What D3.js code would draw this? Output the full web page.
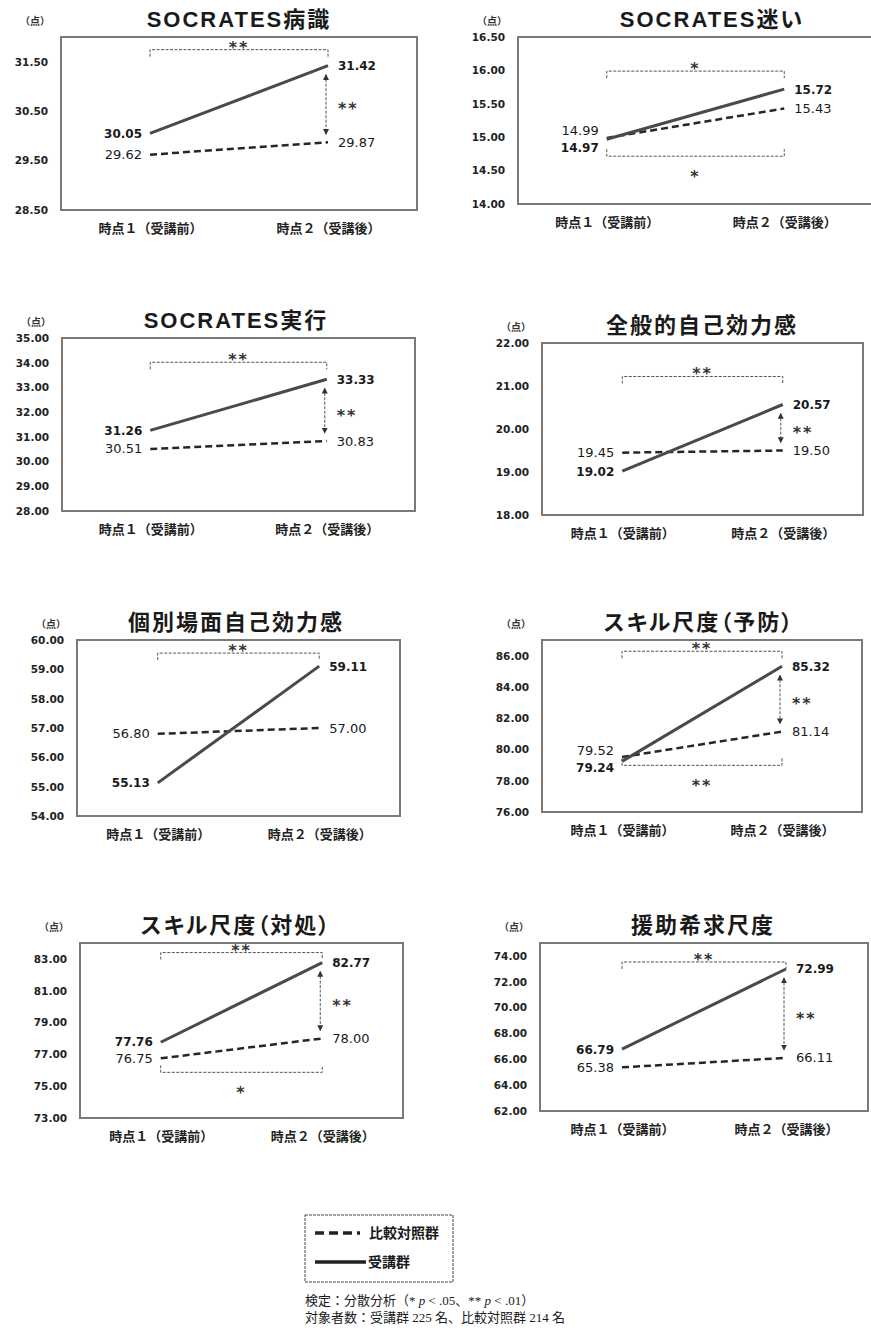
<!DOCTYPE html>
<html lang="ja">
<head>
<meta charset="utf-8">
<script src="https://d3js.org/d3.v7.min.js"></script>
<style>
	body { margin: 0; background: #fff; }
	svg { display: block; background: #fff; }
	.title {
		font-family: "Liberation Sans", "Noto Sans CJK JP", sans-serif;
		font-weight: bold;
		font-size: 22px;
		letter-spacing: 2px;
		font-feature-settings: "palt";
		fill: #1a1a1a;
	}
	.unit { font-family: "Noto Sans CJK JP", sans-serif; font-size: 10px; font-weight: bold; fill: #333; }
	.frame { fill: none; stroke: #7a7a7a; stroke-width: 2px; }
	.trainee { fill: none; stroke: #4a4a4a; stroke-width: 3px; }
	.control { fill: none; stroke: #262626; stroke-width: 2.5px; stroke-dasharray: 7,4; }
	.bracket { fill: none; stroke: #555; stroke-width: 1px; stroke-dasharray: 3,1.5; }
	.val { font-family: "DejaVu Sans", sans-serif; fill: #1a1a1a; }
	.val.bold { font-size: 12px; font-weight: bold; }
	.val.norm { font-size: 13px; }
	.sig { font-family: "DejaVu Sans", sans-serif; font-size: 16px; font-weight: bold; letter-spacing: 2px; fill: #333; }
	.note { font-family: "Liberation Serif", "Noto Sans CJK JP", serif; font-size: 13px; fill: #1a1a1a; }
</style>
</head>
<body>
<div id="chart"></div>
<script>

var width = 871, height = 1334;

// chart values, one entry per panel
var titles = ["SOCRATES病識", "SOCRATES迷い", "SOCRATES実行", "全般的自己効力感",
	"個別場面自己効力感", "スキル尺度（予防）", "スキル尺度（対処）", "援助希求尺度"];
var timeLabels = ["時点１（受講前）", "時点２（受講後）"];
var groupNames = ["比較対照群", "受講群"];

var traineeT1 = [30.05, 14.97, 31.26, 19.02, 55.13, 79.24, 77.76, 66.79];
var traineeT2 = [31.42, 15.72, 33.33, 20.57, 59.11, 85.32, 82.77, 72.99];
var controlT1 = [29.62, 14.99, 30.51, 19.45, 56.80, 79.52, 76.75, 65.38];
var controlT2 = [29.87, 15.43, 30.83, 19.50, 57.00, 81.14, 78.00, 66.11];

var axisMin  = [28.5, 14, 28, 18, 54, 76, 73, 62];
var axisMax  = [32, 16.5, 35, 22, 60, 87, 84, 75];
var axisStep = [1, 0.5, 1, 1, 1, 2, 2, 2];

// significance marks: trainee time change (top), control time change (bottom), groups at time 2
var sigTrainee = ["**", "*", "**", "**", "**", "**", "**", "**"];
var sigControl = [null, "*", null, null, null, "**", "*", null];
var sigGroup   = ["**", null, "**", "**", null, "**", "**", "**"];

// panel layout: plot frame [x0, y0, x1, y1], title centre, bracket offsets
var frames = [
	[61, 37, 417, 210], [518, 37, 873, 204],
	[62, 338, 415, 511], [542, 343, 863, 515],
	[77, 640, 400, 816], [542, 640, 862, 812],
	[80, 943, 403, 1118], [540, 943, 868, 1111]
];
var titleX = [239, 712, 236, 702, 236, 699, 236, 703];
var topGap = [16, 18, 17, 28, 13, 15, 10, 7];
var bottomGap = [0, 17, 0, 0, 0, 4, 14, 0];

var svg = d3.select("#chart").append("svg")
	.attr("width", width)
	.attr("height", height);

var defs = svg.append("defs");
defs.append("marker")
	.attr("id", "head")
	.attr("viewBox", "0 0 8 8")
	.attr("refX", 7).attr("refY", 4)
	.attr("markerWidth", 6).attr("markerHeight", 6)
	.attr("markerUnits", "userSpaceOnUse")
	.attr("orient", "auto-start-reverse")
	.append("path")
	.attr("d", "M0,0L8,4L0,8z")
	.attr("fill", "#333");

var fmt = d3.format(".2f");

titles.forEach(function(title, i) {
	var f = frames[i];
	var g = svg.append("g");

	var x = d3.scalePoint().domain(timeLabels).range([f[0], f[2]]).padding(0.5);
	var y = d3.scaleLinear().domain([axisMin[i], axisMax[i]]).range([f[3], f[1]]);

	var trainee = [traineeT1[i], traineeT2[i]];
	var control = [controlT1[i], controlT2[i]];

	g.append("text")
		.attr("class", "title")
		.attr("x", titleX[i])
		.attr("y", f[1] - 10)
		.attr("text-anchor", "middle")
		.text(title);

	g.append("text")
		.attr("class", "unit")
		.attr("x", f[0] - 26)
		.attr("y", f[1] - 12)
		.attr("text-anchor", "middle")
		.text("（点）");

	g.append("rect")
		.attr("class", "frame")
		.attr("x", f[0]).attr("y", f[1])
		.attr("width", f[2] - f[0]).attr("height", f[3] - f[1]);

	// y axis
	var ticks = d3.range(axisMin[i], axisMax[i] + 1e-6, axisStep[i]);
	g.append("g")
		.attr("transform", "translate(" + f[0] + ",0)")
		.call(d3.axisLeft(y).tickValues(ticks).tickFormat(fmt).tickSize(0).tickPadding(13))
		.call(function(a) { a.select(".domain").remove(); })
		.attr("font-family", "DejaVu Sans, sans-serif")
		.attr("font-weight", "bold")
		.attr("font-size", 10.5)
		.selectAll("text").attr("fill", "#222");

	// x axis
	g.append("g")
		.attr("transform", "translate(0," + f[3] + ")")
		.call(d3.axisBottom(x).tickSize(0).tickPadding(14))
		.call(function(a) { a.select(".domain").remove(); })
		.attr("font-family", "Noto Sans CJK JP, sans-serif")
		.attr("font-weight", "bold")
		.attr("font-size", 13)
		.selectAll("text").attr("fill", "#222");

	var line = d3.line()
		.x(function(d, k) { return x(timeLabels[k]); })
		.y(function(d) { return y(d); });

	g.append("path").datum(control).attr("class", "control").attr("d", line);
	g.append("path").datum(trainee).attr("class", "trainee").attr("d", line);

	// value labels, pushed apart when they would overlap
	[0, 1].forEach(function(k) {
		var yt = y(trainee[k]), yc = y(control[k]);
		if (Math.abs(yt - yc) < 17) {
			var mid = (yt + yc) / 2, s = trainee[k] >= control[k] ? -1 : 1;
			yt = mid + s * 8.5;
			yc = mid - s * 8.5;
		}
		var lx = k === 0 ? x(timeLabels[0]) - 8 : x(timeLabels[1]) + 10;
		var anchor = k === 0 ? "end" : "start";
		g.append("text").attr("class", "val bold")
			.attr("x", lx).attr("y", yt + 4.5)
			.attr("text-anchor", anchor)
			.text(fmt(trainee[k]));
		g.append("text").attr("class", "val norm")
			.attr("x", lx).attr("y", yc + 4.5)
			.attr("text-anchor", anchor)
			.text(fmt(control[k]));
	});

	var x1 = x(timeLabels[0]), x2 = x(timeLabels[1]);

	// top bracket: change within trainee group
	if (sigTrainee[i]) {
		var top = Math.min(y(trainee[0]), y(trainee[1]), y(control[0]), y(control[1])) - topGap[i];
		g.append("path").attr("class", "bracket")
			.attr("d", "M" + x1 + "," + (top + 7) + "V" + top + "H" + x2 + "V" + (top + 7));
		g.append("text").attr("class", "sig")
			.attr("x", (x1 + x2) / 2).attr("y", top + 3)
			.attr("text-anchor", "middle")
			.text(sigTrainee[i]);
	}

	// bottom bracket: change within control group
	if (sigControl[i]) {
		var bot = Math.max(y(trainee[0]), y(control[0])) + bottomGap[i];
		g.append("path").attr("class", "bracket")
			.attr("d", "M" + x1 + "," + (bot - 7) + "V" + bot + "H" + x2 + "V" + (bot - 7));
		g.append("text").attr("class", "sig")
			.attr("x", (x1 + x2) / 2).attr("y", bot + 26)
			.attr("text-anchor", "middle")
			.text(sigControl[i]);
	}

	// arrow between groups at time 2
	if (sigGroup[i]) {
		var ya = y(trainee[1]) + 9, yb = y(control[1]) - 8;
		g.append("line").attr("class", "bracket")
			.attr("x1", x2 - 2).attr("x2", x2 - 2)
			.attr("y1", ya).attr("y2", yb)
			.attr("marker-start", "url(#head)")
			.attr("marker-end", "url(#head)");
		g.append("text").attr("class", "sig")
			.attr("x", x2 + 10).attr("y", (ya + yb) / 2 + 10)
			.text(sigGroup[i]);
	}
});

// legend
var lg = svg.append("g");
lg.append("rect")
	.attr("x", 305).attr("y", 1215).attr("width", 148).attr("height", 67)
	.attr("fill", "none").attr("stroke", "#444").attr("stroke-dasharray", "3,1");
lg.append("line").attr("x1", 315).attr("x2", 360).attr("y1", 1233).attr("y2", 1233)
	.attr("stroke", "#222").attr("stroke-width", 3.5).attr("stroke-dasharray", "9,5");
lg.append("line").attr("x1", 315).attr("x2", 366).attr("y1", 1262).attr("y2", 1262)
	.attr("stroke", "#222").attr("stroke-width", 3.5);
lg.selectAll(".lgtext")
	.data(groupNames)
	.enter()
	.append("text")
	.attr("x", function(d, k) { return k === 0 ? 369 : 368; })
	.attr("y", function(d, k) { return k === 0 ? 1238 : 1267; })
	.attr("font-family", "Noto Sans CJK JP, sans-serif")
	.attr("font-weight", "bold")
	.attr("font-size", 14)
	.attr("fill", "#1a1a1a")
	.text(function(d) { return d; });

// footnote
var n1 = svg.append("text").attr("class", "note").attr("x", 305).attr("y", 1305);
n1.append("tspan").text("検定：分散分析（* ");
n1.append("tspan").attr("font-style", "italic").text("p");
n1.append("tspan").text(" < .05、** ");
n1.append("tspan").attr("font-style", "italic").text("p");
n1.append("tspan").text(" < .01）");

svg.append("text").attr("class", "note").attr("x", 305).attr("y", 1322)
	.text("対象者数：受講群 225 名、比較対照群 214 名");

</script>
</body>
</html>
